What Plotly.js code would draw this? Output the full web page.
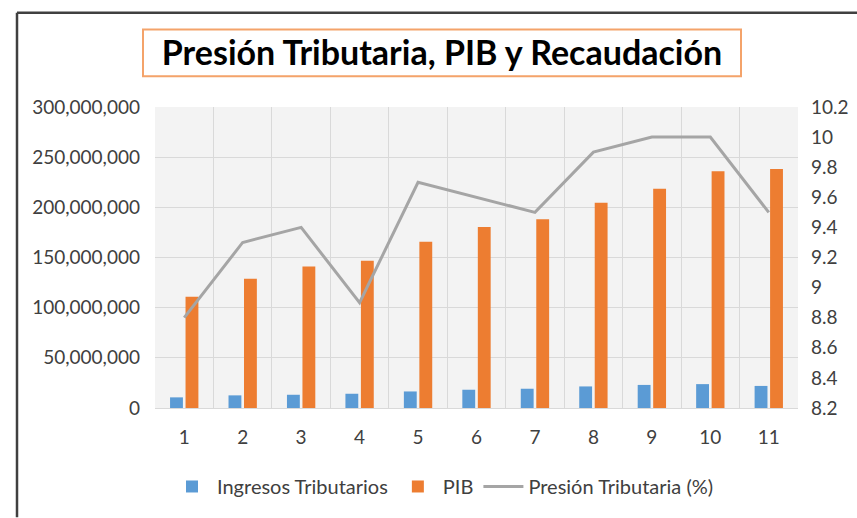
<!DOCTYPE html>
<html>
<head>
<meta charset="utf-8">
<script src="https://cdn.plot.ly/plotly-3.0.1.min.js"></script>
<style>html,body{margin:0;padding:0;background:#fff;}#chart{width:857px;height:518px;}</style>
</head>
<body>
<div id="chart"></div>
<script>
const categories = ['1','2','3','4','5','6','7','8','9','10','11'];
const ingresosTributarios = [10.6e6, 12.6e6, 13.2e6, 14.2e6, 16.5e6, 18.2e6, 19.2e6, 21.5e6, 23.0e6, 23.8e6, 22.0e6];
const pib = [111e6, 128.7e6, 141e6, 146.8e6, 165.6e6, 180.5e6, 188e6, 204.6e6, 218.5e6, 236e6, 238.3e6];
const presionTributaria = [8.8, 9.3, 9.4, 8.9, 9.7, 9.6, 9.5, 9.9, 10.0, 10.0, 9.5];
const seriesNames = ['Ingresos Tributarios', 'PIB', 'Presión Tributaria (%)'];
const chartTitle = 'Presión Tributaria, PIB y Recaudación';

const FONT = 'Lato, "Open Sans", sans-serif';
const TXT = '#404040';

const traces = [
  {type:'bar', name:seriesNames[0], x:categories, y:ingresosTributarios, marker:{color:'#5b9bd5'}, hoverinfo:'skip'},
  {type:'bar', name:seriesNames[1], x:categories, y:pib, marker:{color:'#ed7d31'}, hoverinfo:'skip'},
  {type:'scatter', mode:'lines', name:seriesNames[2], x:categories, y:presionTributaria, yaxis:'y2',
   line:{color:'#a5a5a5', width:3}, hoverinfo:'skip'}
];

// plot area: x 155..798, y 107..410
const L=155, R=798, T=107, B=410, W=857, H=518;
const px = v => (v-L)/(R-L);
const py = v => (B-v)/(B-T);

const layout = {
  width:W, height:H,
  margin:{l:L, r:W-R, t:T, b:H-B, pad:0},
  paper_bgcolor:'#ffffff',
  plot_bgcolor:'#f3f3f3',
  font:{family:FONT, color:TXT, size:19},
  barmode:'group', bargap:0.47, bargroupgap:0.17,
  title:{text:chartTitle, font:{family:FONT, size:34, color:'#000000', weight:'bold'},
         x:px(442), xref:'paper', xanchor:'center', y:1-(53/H), yref:'container', yanchor:'middle'},
  xaxis:{type:'category', tickson:'boundaries', showgrid:true, gridcolor:'#d9d9d9', gridwidth:1,
         ticks:'', ticklabelstandoff:12, tickfont:{size:19, color:TXT}, showline:true, linecolor:'#d9d9d9',
         fixedrange:true},
  yaxis:{range:[0,300e6], dtick:50e6, tickformat:',', gridcolor:'#d9d9d9', gridwidth:1, zeroline:false,
         ticks:'', ticklabelstandoff:14, tickfont:{size:19, color:TXT}, fixedrange:true},
  yaxis2:{range:[8.2,10.2], dtick:0.2, overlaying:'y', side:'right', showgrid:false, zeroline:false,
          ticks:'', ticklabelstandoff:12, tickfont:{size:19, color:TXT}, fixedrange:true},
  showlegend:true,
  legend:{orientation:'h', x:px(443), xanchor:'center', y:py(489), yanchor:'middle',
          font:{size:20, color:TXT}, itemwidth:40, traceorder:'normal', bgcolor:'rgba(0,0,0,0)'},
  shapes:[
    {type:'rect', xref:'paper', yref:'paper', x0:px(143), x1:px(741), y0:py(76), y1:py(29),
     line:{color:'#f4a36a', width:2}, fillcolor:'rgba(0,0,0,0)'},
    {type:'line', xref:'paper', yref:'paper', x0:px(17), x1:px(860), y0:py(12), y1:py(12),
     line:{color:'#404040', width:2.5}},
    {type:'line', xref:'paper', yref:'paper', x0:px(17), x1:px(17), y0:py(12), y1:py(520),
     line:{color:'#404040', width:2.5}}
  ]
};

Plotly.newPlot('chart', traces, layout, {displayModeBar:false, staticPlot:true});
</script>
</body>
</html>
